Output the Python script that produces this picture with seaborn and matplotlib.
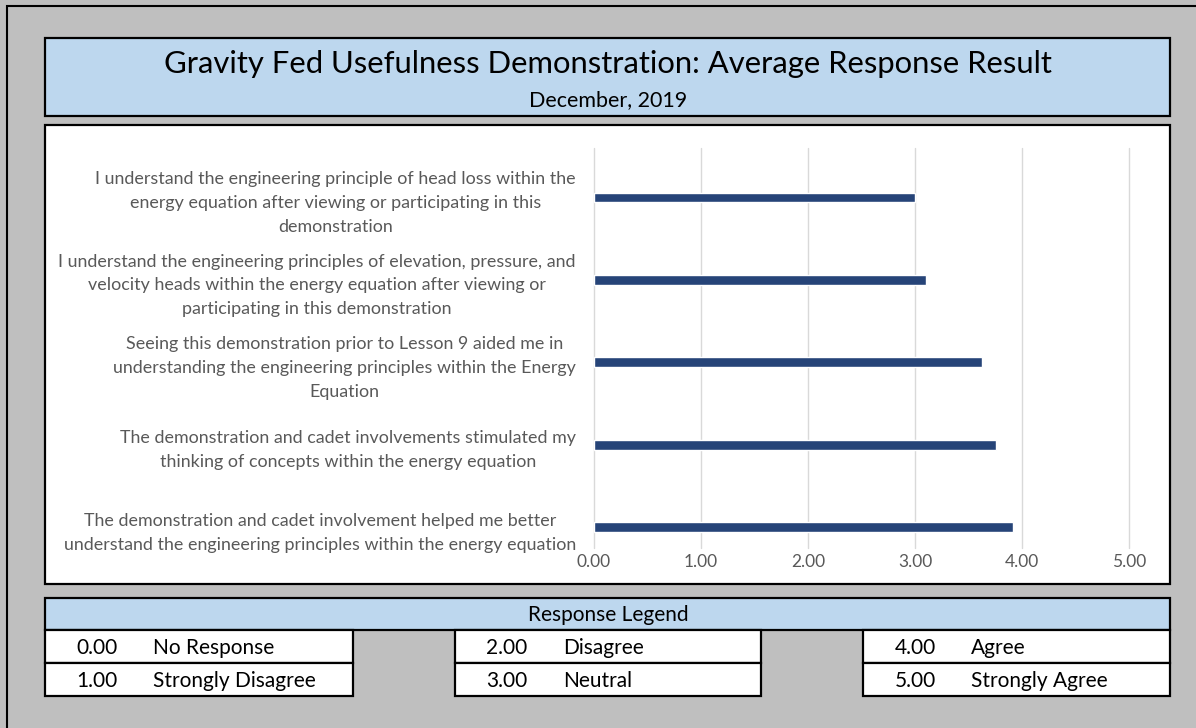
import matplotlib
matplotlib.use("Agg")
import matplotlib.pyplot as plt
from matplotlib.patches import Rectangle
import seaborn as sns
import pandas as pd

# survey questions (top to bottom) and their average score
questions = [
    "I understand the engineering principle of head loss within the\n"
    "energy equation after viewing or participating in this\ndemonstration",
    "I understand the engineering principles of elevation, pressure, and\n"
    "velocity heads within the energy equation after viewing or\n"
    "participating in this demonstration",
    "Seeing this demonstration prior to Lesson 9 aided me in\n"
    "understanding the engineering principles within the Energy\nEquation",
    "The demonstration and cadet involvements stimulated my\n"
    "thinking of concepts within the energy equation",
    "The demonstration and cadet involvement helped me better\n"
    "understand the engineering principles within the energy equation",
]
avg_scores = [3.00, 3.10, 3.63, 3.76, 3.92]

x_ticks = [0, 1, 2, 3, 4, 5]

legend_scores = [0, 1, 2, 3, 4, 5]
legend_labels = ["No Response", "Strongly Disagree", "Disagree",
                 "Neutral", "Agree", "Strongly Agree"]

TITLE = "Gravity Fed Usefulness Demonstration: Average Response Result"
SUBTITLE = "December, 2019"

W, H = 1196, 728
BAR_COLOR = "#264478"
BOX_BLUE = "#BDD7EE"
GREY_TEXT = "#595959"

sns.set_theme(style="whitegrid")
plt.rcParams['font.family'] = ['Lato', 'DejaVu Sans']

fig = plt.figure(figsize=(W / 100, H / 100), dpi=100)
fig.patch.set_facecolor("#BFBFBF")


def px_box(x0, y0, x1, y1, fc, lw=1.6):
    # pixel coords measured from the top-left corner
    fig.add_artist(Rectangle((x0 / W, 1 - y1 / H), (x1 - x0) / W, (y1 - y0) / H,
                             transform=fig.transFigure, facecolor=fc,
                             edgecolor="black", lw=lw, zorder=0))


def px_text(x, y, s, **kw):
    fig.text(x / W, 1 - y / H, s, **kw)


# outer frame
px_box(7, 6, 1210, 740, "none", lw=1.5)

# title block
px_box(45, 38, 1170, 116, BOX_BLUE)
px_text(608, 64, TITLE, ha="center", va="center", fontsize=22.3, color="black")
px_text(608, 100, SUBTITLE, ha="center", va="center", fontsize=15.5, color="black")

# chart block
px_box(45, 125, 1170, 584, "white")

ax = fig.add_axes([594 / W, 1 - 548 / H, (1129 - 594) / W, (548 - 148) / H])
ax.set_facecolor("none")
df = pd.DataFrame({"question": questions, "score": avg_scores})
sns.barplot(data=df, x="score", y="question", orient="h", color=BAR_COLOR,
            width=0.12, saturation=1, ax=ax)
ax.set_xlim(0, 5)
ax.set_ylim(4.25, -0.6)
ax.set_xticks(x_ticks)
ax.set_xticklabels([f"{v:.2f}" for v in x_ticks])
ax.set_xlabel("")
ax.set_ylabel("")
ax.grid(axis="x", color="#D9D9D9", lw=1)
ax.grid(axis="y", visible=False)
for gl in ax.xaxis.get_gridlines():
    gl.set_clip_on(False)
sns.despine(ax=ax, left=True, bottom=True)
ax.tick_params(axis="x", length=0, pad=4, labelsize=12.5, labelcolor=GREY_TEXT)
ax.tick_params(axis="y", length=0, pad=13, labelsize=12.9, labelcolor=GREY_TEXT)
for t in ax.get_yticklabels():
    t.set_multialignment("center")
    t.set_linespacing(1.6)

# response legend
px_box(45, 598, 1170, 630, BOX_BLUE)
px_text(608, 615, "Response Legend", ha="center", va="center", fontsize=15, color="black")
cells = [45, 455, 863]
cell_w = [308, 306, 307]
for i, (score, label) in enumerate(zip(legend_scores, legend_labels)):
    col, row = i // 2, i % 2
    x0 = cells[col]
    y0 = 630 + row * 33
    px_box(x0, y0, x0 + cell_w[col], y0 + 33, "white")
    px_text(x0 + 52, y0 + 18, f"{score:.2f}", ha="center", va="center",
            fontsize=15, color="black")
    px_text(x0 + 108, y0 + 18, label, ha="left", va="center",
            fontsize=15, color="black")

fig.savefig("out.png", dpi=100, facecolor=fig.get_facecolor())
